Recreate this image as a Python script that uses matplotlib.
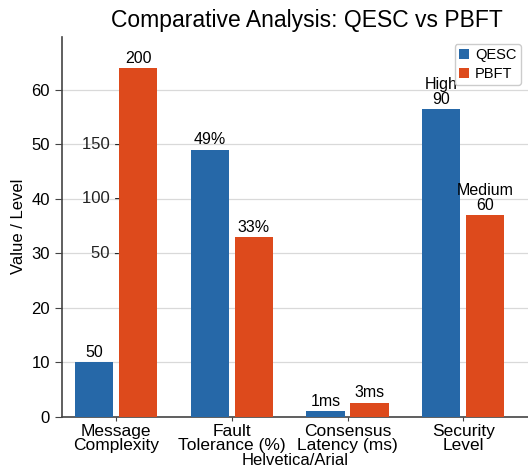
import numpy as np
import matplotlib.pyplot as plt

plt.rcParams['font.family'] = ['Liberation Sans', 'DejaVu Sans']

# Bar heights on the shared value/level scale
categories = ['Message\nComplexity', 'Fault\nTolerance (%)', 'Consensus\nLatency (ms)', 'Security\nLevel']
qesc_vals = [10, 49, 1, 56.5]
pbft_vals = [64, 33, 2.6, 37]
qesc_labels = ['50', '49%', '1ms', 'High\n90']
pbft_labels = ['200', '33%', '3ms', 'Medium\n60']
# secondary scale labels shown inside the plot
inner_ticks = [30, 40, 50]
inner_labels = ['50', '100', '150']

blue = '#2668a8'
orange = '#dd4a1c'

fig = plt.figure(figsize=(5.28, 4.72), dpi=100)
ax = fig.add_axes([0.117, 0.117, 0.883, 0.805])

x = np.arange(len(categories))
w = 0.33
off = 0.19
b1 = ax.bar(x - off, qesc_vals, w, color=blue, label='QESC', zorder=3)
b2 = ax.bar(x + off, pbft_vals, w, color=orange, label='PBFT', zorder=3)

for rect, lab in zip(b1, qesc_labels):
    ax.text(rect.get_x() + rect.get_width() / 2, rect.get_height() + 0.4, lab,
            ha='center', va='bottom', fontsize=11.5, linespacing=0.95)
for rect, lab in zip(b2, pbft_labels):
    ax.text(rect.get_x() + rect.get_width() / 2, rect.get_height() + 0.4, lab,
            ha='center', va='bottom', fontsize=11.5, linespacing=0.95)

for yv, lab in zip(inner_ticks, inner_labels):
    ax.text(0.125, yv, lab + ' -', transform=ax.get_yaxis_transform(),
            ha='right', va='center', fontsize=12, color='#222222')

ax.set_xlim(-0.47, 3.56)
ax.set_ylim(0, 69.7)
ax.set_yticks([0, 10, 20, 30, 40, 50, 60])
ax.set_xticks(x)
ax.set_xticklabels(categories, fontsize=12.5, linespacing=0.95)
ax.tick_params(axis='y', labelsize=12, length=5, color='#444444')
ax.tick_params(axis='x', length=3, pad=2, color='#444444')
ax.grid(axis='y', color='#d9d9d9', linewidth=0.9, zorder=0)
ax.set_axisbelow(True)
for s in ['top', 'right']:
    ax.spines[s].set_visible(False)
for s in ['left', 'bottom']:
    ax.spines[s].set_color('#444444')
    ax.spines[s].set_linewidth(1.2)

ax.set_title('Comparative Analysis: QESC vs PBFT', fontsize=16.5, pad=7, x=0.525)
ax.set_ylabel('Value / Level', fontsize=12)
ax.set_xlabel('Helvetica/Arial', fontsize=12, labelpad=0)
ax.legend(loc='upper right', fontsize=10.5, handlelength=0.7, handletextpad=0.4,
          borderpad=0.3, labelspacing=0.3, bbox_to_anchor=(1.0, 1.0), framealpha=1)

fig.savefig('out.png', dpi=100)
